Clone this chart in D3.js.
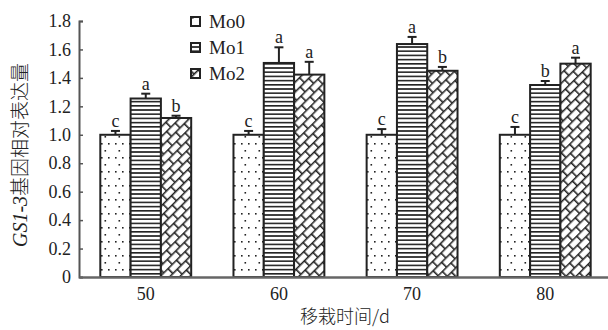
<!DOCTYPE html>
<html><head><meta charset="utf-8">
<script src="https://cdn.jsdelivr.net/npm/d3@7"></script>
<style>body{margin:0;background:#fff}svg{display:block}
.serif{font-family:"Liberation Serif","DejaVu Serif","Times New Roman",serif}
.cjk{font-family:"Noto Sans CJK SC","Noto Sans CJK JP",sans-serif}
</style>
</head><body>
<script>
const categories = ["50","60","70","80"];
const seriesNames = ["Mo0","Mo1","Mo2"];
const mo0 = [1.00, 1.00, 1.00, 1.00];
const mo1 = [1.255, 1.505, 1.638, 1.350];
const mo2 = [1.118, 1.423, 1.450, 1.500];
const err0 = [0.027, 0.027, 0.04, 0.055];
const err1 = [0.034, 0.11, 0.05, 0.028];
const err2 = [0.016, 0.09, 0.027, 0.042];
const sig0 = ["c","c","c","c"];
const sig1 = ["a","a","a","b"];
const sig2 = ["b","a","b","a"];
const yTicks = [0,0.2,0.4,0.6,0.8,1.0,1.2,1.4,1.6,1.8];

const W=608,H=330;
const svg=d3.select("body").append("svg").attr("width",W).attr("height",H);
const defs=svg.append("defs");
const p0=defs.append("pattern").attr("id","p0").attr("patternUnits","userSpaceOnUse").attr("width",14).attr("height",14);
p0.append("rect").attr("width",14).attr("height",14).attr("fill","#fff");
[[3,3],[10,3],[6.5,10]].forEach(d=>p0.append("rect").attr("x",d[0]).attr("y",d[1]).attr("width",1.6).attr("height",1.6).attr("fill","#222"));
const p1=defs.append("pattern").attr("id","p1").attr("patternUnits","userSpaceOnUse").attr("width",10).attr("height",4.2);
p1.append("rect").attr("width",10).attr("height",4.2).attr("fill","#fff");
p1.append("rect").attr("y",0).attr("width",10).attr("height",1.6).attr("fill","#222");
const p2=defs.append("pattern").attr("id","p2").attr("patternUnits","userSpaceOnUse").attr("width",12).attr("height",14).attr("patternTransform","rotate(-45)");
p2.append("rect").attr("width",12).attr("height",14).attr("fill","#fff");
p2.append("line").attr("x1",0).attr("x2",12).attr("y1",0.7).attr("y2",0.7).attr("stroke","#222").attr("stroke-width",1.6);
p2.append("line").attr("x1",0).attr("x2",12).attr("y1",7.7).attr("y2",7.7).attr("stroke","#222").attr("stroke-width",1.6);
p2.append("line").attr("x1",0.8).attr("x2",0.8).attr("y1",0).attr("y2",7).attr("stroke","#222").attr("stroke-width",1.6);
p2.append("line").attr("x1",6.8).attr("x2",6.8).attr("y1",7).attr("y2",14).attr("stroke","#222").attr("stroke-width",1.6);

const x=d3.scaleBand().domain(categories).range([79,612]).paddingInner(0.3175).paddingOuter(0.16);
const xs=d3.scaleBand().domain(seriesNames).range([0,x.bandwidth()]);
const y=d3.scaleLinear().domain([0,1.8]).range([277,21]);

const series=[
 {name:"Mo0",vals:mo0,err:err0,sig:sig0,fill:"url(#p0)"},
 {name:"Mo1",vals:mo1,err:err1,sig:sig1,fill:"url(#p1)"},
 {name:"Mo2",vals:mo2,err:err2,sig:sig2,fill:"url(#p2)"}
];

series.forEach(s=>{
  const g=svg.append("g");
  categories.forEach((c,i)=>{
    const bx=x(c)+xs(s.name), bw=xs.bandwidth(), cx=bx+bw/2;
    const top=y(s.vals[i]), et=y(s.vals[i]+s.err[i]);
    g.append("line").attr("x1",cx).attr("x2",cx).attr("y1",top).attr("y2",et).attr("stroke","#222").attr("stroke-width",2);
    g.append("line").attr("x1",cx-4.5).attr("x2",cx+4.5).attr("y1",et).attr("y2",et).attr("stroke","#222").attr("stroke-width",2);
    g.append("rect").attr("x",bx).attr("y",top).attr("width",bw).attr("height",y(0)-top)
      .attr("fill",s.fill).attr("stroke","#222").attr("stroke-width",2);
    g.append("text").attr("class","serif").attr("x",cx).attr("y",et-4).attr("text-anchor","middle")
      .attr("font-size",18).attr("fill","#222").text(s.sig[i]);
  });
});

const ya=svg.append("g").attr("transform","translate(79,0)")
  .call(d3.axisLeft(y).tickValues(yTicks).tickSize(-4).tickPadding(8).tickFormat(d=>d===0?"0":d3.format(".1f")(d)));
ya.attr("font-family",null);
ya.select(".domain").attr("stroke","#555").attr("stroke-width",2);
ya.selectAll(".tick line").attr("stroke","#555").attr("stroke-width",1.5);
ya.selectAll("text").attr("class","serif").attr("font-size",18).attr("fill","#222");

const xa=svg.append("g").attr("transform","translate(0,277)")
  .call(d3.axisBottom(x).tickSize(0).tickPadding(10));
xa.attr("font-family",null);
xa.select(".domain").attr("stroke","#666").attr("stroke-width",2.5);
xa.selectAll("text").attr("class","serif").attr("font-size",18).attr("fill","#222");

svg.append("text").attr("class","cjk").attr("x",345).attr("y",323).attr("text-anchor","middle")
  .attr("font-size",18).attr("fill","#222").attr("font-weight",300)
  .text("移栽时间/d");
const yt=svg.append("text").attr("class","cjk").attr("transform","translate(27,155) rotate(-90)").attr("text-anchor","middle")
  .attr("font-size",19).attr("fill","#222").attr("font-weight",300);
yt.append("tspan").attr("class","serif").attr("font-style","italic").attr("font-size",20).text("GS1-3");
yt.append("tspan").text("基因相对表达量");

const lg=svg.append("g");
series.forEach((s,i)=>{
  const ly=22+i*26;
  lg.append("rect").attr("x",191).attr("y",ly-5).attr("width",9).attr("height",9)
    .attr("fill",s.fill).attr("stroke","#222").attr("stroke-width",2);
  lg.append("text").attr("class","serif").attr("x",209).attr("y",ly+6).attr("font-size",19).attr("fill","#222").text(s.name);
});
</script>
</body></html>
